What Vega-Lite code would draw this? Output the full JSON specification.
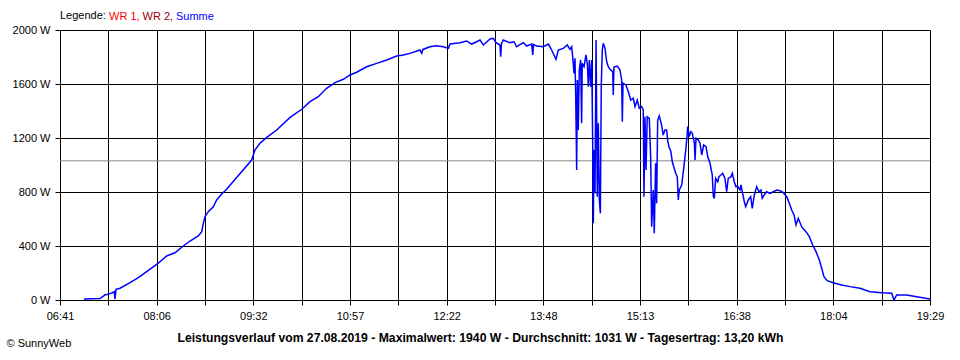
{
  "$schema": "https://vega.github.io/schema/vega-lite/v6.json",
  "width": 870,
  "height": 270,
  "autosize": {"type": "none"},
  "padding": {"left": 60, "top": 30, "right": 30, "bottom": 60},
  "background": "#ffffff",
  "config": {
    "view": {"stroke": null},
    "font": "Liberation Sans",
    "axis": {
      "labelFont": "Liberation Sans",
      "labelFontSize": 11,
      "labelColor": "#000000",
      "tickColor": "#000000",
      "tickSize": 5,
      "tickWidth": 1,
      "domainColor": "#000000",
      "domainWidth": 1,
      "gridColor": "#000000",
      "gridWidth": 1,
      "gridOpacity": 1
    }
  },
  "datasets": {
    "power": [
      {"t": 422.2, "w": 5}, {"t": 426.6, "w": 10}, {"t": 436.3, "w": 11}, {"t": 437.2, "w": 15},
      {"t": 440.7, "w": 37}, {"t": 445.1, "w": 47}, {"t": 447.2, "w": 54}, {"t": 448.9, "w": 62},
      {"t": 449.6, "w": 7}, {"t": 450.4, "w": 79}, {"t": 454.0, "w": 87}, {"t": 462.8, "w": 128},
      {"t": 470.1, "w": 165}, {"t": 477.5, "w": 210}, {"t": 486.9, "w": 267}, {"t": 495.2, "w": 326},
      {"t": 502.5, "w": 350}, {"t": 509.8, "w": 400}, {"t": 515.8, "w": 437}, {"t": 523.1, "w": 474},
      {"t": 526.1, "w": 506}, {"t": 527.5, "w": 568}, {"t": 529.0, "w": 617}, {"t": 531.9, "w": 654},
      {"t": 536.3, "w": 691}, {"t": 539.3, "w": 741}, {"t": 543.7, "w": 785}, {"t": 547.5, "w": 815},
      {"t": 558.1, "w": 918}, {"t": 570.2, "w": 1037}, {"t": 573.1, "w": 1111}, {"t": 577.5, "w": 1161},
      {"t": 583.5, "w": 1205}, {"t": 592.3, "w": 1259}, {"t": 604.1, "w": 1353}, {"t": 614.4, "w": 1413},
      {"t": 621.7, "w": 1469}, {"t": 629.0, "w": 1506}, {"t": 636.4, "w": 1568}, {"t": 643.8, "w": 1610},
      {"t": 651.1, "w": 1635}, {"t": 657.0, "w": 1667}, {"t": 662.9, "w": 1687}, {"t": 671.7, "w": 1728},
      {"t": 680.6, "w": 1753}, {"t": 689.4, "w": 1778}, {"t": 698.2, "w": 1807}, {"t": 704.1, "w": 1815},
      {"t": 710.0, "w": 1827}, {"t": 718.8, "w": 1852}, {"t": 720.3, "w": 1827}, {"t": 721.4, "w": 1856},
      {"t": 727.6, "w": 1876}, {"t": 733.5, "w": 1884}, {"t": 739.4, "w": 1876}, {"t": 743.8, "w": 1864},
      {"t": 745.3, "w": 1896}, {"t": 754.1, "w": 1906}, {"t": 760.0, "w": 1919}, {"t": 764.4, "w": 1896},
      {"t": 768.8, "w": 1913}, {"t": 771.8, "w": 1926}, {"t": 774.7, "w": 1889}, {"t": 780.6, "w": 1933},
      {"t": 783.5, "w": 1939}, {"t": 785.9, "w": 1906}, {"t": 789.4, "w": 1889}, {"t": 790.0, "w": 1802},
      {"t": 790.7, "w": 1896}, {"t": 792.3, "w": 1926}, {"t": 798.2, "w": 1906}, {"t": 801.8, "w": 1913},
      {"t": 804.1, "w": 1876}, {"t": 810.0, "w": 1906}, {"t": 813.0, "w": 1881}, {"t": 817.4, "w": 1896},
      {"t": 818.3, "w": 1815}, {"t": 819.0, "w": 1893}, {"t": 821.8, "w": 1881}, {"t": 827.6, "w": 1876},
      {"t": 832.1, "w": 1896}, {"t": 835.0, "w": 1852}, {"t": 838.8, "w": 1783}, {"t": 840.9, "w": 1852},
      {"t": 845.3, "w": 1864}, {"t": 848.8, "w": 1889}, {"t": 851.2, "w": 1857}, {"t": 852.7, "w": 1876},
      {"t": 854.1, "w": 1753}, {"t": 854.7, "w": 1679}, {"t": 855.6, "w": 1790}, {"t": 856.2, "w": 1531},
      {"t": 857.1, "w": 963}, {"t": 857.7, "w": 1630}, {"t": 858.5, "w": 1259}, {"t": 859.4, "w": 1704},
      {"t": 860.6, "w": 1778}, {"t": 861.5, "w": 1309}, {"t": 862.0, "w": 1753}, {"t": 863.6, "w": 1728},
      {"t": 865.3, "w": 1815}, {"t": 866.5, "w": 1753}, {"t": 867.4, "w": 1580}, {"t": 868.3, "w": 1778},
      {"t": 869.5, "w": 1580}, {"t": 870.4, "w": 1778}, {"t": 871.3, "w": 1111}, {"t": 871.8, "w": 568},
      {"t": 872.4, "w": 1111}, {"t": 873.3, "w": 790}, {"t": 874.2, "w": 1926}, {"t": 875.3, "w": 765},
      {"t": 876.2, "w": 1309}, {"t": 877.1, "w": 741}, {"t": 878.0, "w": 642}, {"t": 878.8, "w": 1580},
      {"t": 879.7, "w": 1852}, {"t": 880.6, "w": 1901}, {"t": 882.1, "w": 1864}, {"t": 883.6, "w": 1765},
      {"t": 885.0, "w": 1728}, {"t": 886.5, "w": 1709}, {"t": 888.9, "w": 1691}, {"t": 889.4, "w": 1519},
      {"t": 890.0, "w": 1726}, {"t": 890.9, "w": 1728}, {"t": 893.0, "w": 1733}, {"t": 895.3, "w": 1704},
      {"t": 896.8, "w": 1630}, {"t": 897.4, "w": 1321}, {"t": 898.0, "w": 1605}, {"t": 900.6, "w": 1593},
      {"t": 902.7, "w": 1543}, {"t": 904.8, "w": 1481}, {"t": 907.1, "w": 1494}, {"t": 908.6, "w": 1432},
      {"t": 910.6, "w": 1481}, {"t": 912.4, "w": 1420}, {"t": 914.5, "w": 1432}, {"t": 915.9, "w": 1407},
      {"t": 916.5, "w": 765}, {"t": 917.4, "w": 1358}, {"t": 918.3, "w": 963}, {"t": 919.4, "w": 1358},
      {"t": 921.2, "w": 1346}, {"t": 922.4, "w": 1061}, {"t": 923.3, "w": 543}, {"t": 924.7, "w": 815},
      {"t": 925.6, "w": 494}, {"t": 926.8, "w": 1013}, {"t": 927.7, "w": 716}, {"t": 928.6, "w": 1333},
      {"t": 930.0, "w": 1363}, {"t": 932.1, "w": 1296}, {"t": 933.5, "w": 1222}, {"t": 935.0, "w": 1259},
      {"t": 936.5, "w": 1259}, {"t": 937.4, "w": 1185}, {"t": 938.5, "w": 1136}, {"t": 940.3, "w": 1099},
      {"t": 941.5, "w": 1024}, {"t": 943.2, "w": 976}, {"t": 944.5, "w": 939}, {"t": 945.9, "w": 913},
      {"t": 946.8, "w": 741}, {"t": 947.7, "w": 815}, {"t": 949.8, "w": 852}, {"t": 952.1, "w": 1013},
      {"t": 953.4, "w": 1111}, {"t": 954.5, "w": 1210}, {"t": 955.1, "w": 1284}, {"t": 956.5, "w": 1210},
      {"t": 957.8, "w": 1247}, {"t": 959.2, "w": 1235}, {"t": 961.0, "w": 1161}, {"t": 961.6, "w": 1037},
      {"t": 962.4, "w": 1198}, {"t": 964.5, "w": 1185}, {"t": 966.0, "w": 1161}, {"t": 967.5, "w": 1074},
      {"t": 969.2, "w": 1148}, {"t": 971.3, "w": 1136}, {"t": 972.8, "w": 1061}, {"t": 974.8, "w": 1013},
      {"t": 976.8, "w": 926}, {"t": 977.7, "w": 770}, {"t": 978.6, "w": 753}, {"t": 979.8, "w": 901},
      {"t": 981.6, "w": 876}, {"t": 982.7, "w": 913}, {"t": 984.5, "w": 926}, {"t": 986.0, "w": 938},
      {"t": 988.0, "w": 901}, {"t": 989.5, "w": 802}, {"t": 990.9, "w": 901}, {"t": 993.3, "w": 913},
      {"t": 994.5, "w": 939}, {"t": 996.2, "w": 876}, {"t": 997.7, "w": 839}, {"t": 999.2, "w": 844},
      {"t": 1001.3, "w": 815}, {"t": 1002.2, "w": 852}, {"t": 1003.3, "w": 802}, {"t": 1005.1, "w": 728},
      {"t": 1006.3, "w": 691}, {"t": 1008.6, "w": 741}, {"t": 1010.7, "w": 765}, {"t": 1012.1, "w": 679},
      {"t": 1013.9, "w": 778}, {"t": 1016.0, "w": 839}, {"t": 1018.0, "w": 802}, {"t": 1019.8, "w": 815},
      {"t": 1020.9, "w": 753}, {"t": 1022.7, "w": 778}, {"t": 1024.8, "w": 802}, {"t": 1027.8, "w": 790},
      {"t": 1030.7, "w": 802}, {"t": 1033.7, "w": 815}, {"t": 1036.6, "w": 810}, {"t": 1039.5, "w": 795},
      {"t": 1042.5, "w": 765}, {"t": 1044.8, "w": 716}, {"t": 1046.9, "w": 667}, {"t": 1049.0, "w": 630},
      {"t": 1050.7, "w": 556}, {"t": 1052.7, "w": 605}, {"t": 1055.7, "w": 543}, {"t": 1059.5, "w": 506},
      {"t": 1062.5, "w": 469}, {"t": 1065.4, "w": 407}, {"t": 1068.4, "w": 358}, {"t": 1071.3, "w": 296},
      {"t": 1073.4, "w": 235}, {"t": 1075.4, "w": 173}, {"t": 1078.3, "w": 143}, {"t": 1083.6, "w": 128},
      {"t": 1091.0, "w": 111}, {"t": 1098.4, "w": 99}, {"t": 1107.2, "w": 87}, {"t": 1116.0, "w": 61},
      {"t": 1126.4, "w": 54}, {"t": 1135.2, "w": 50}, {"t": 1137.2, "w": 0}, {"t": 1139.6, "w": 37},
      {"t": 1148.4, "w": 37}, {"t": 1157.3, "w": 24}, {"t": 1169.0, "w": 7}
    ],
    "avg": [{"w": 1031}]
  },
  "layer": [
    {
      "data": {"name": "avg"},
      "mark": {"type": "rule", "color": "#8a8a8a", "strokeWidth": 1},
      "encoding": {
        "y": {"field": "w", "type": "quantitative", "scale": {"domain": [0, 2000], "nice": false}}
      }
    },
    {
      "data": {"name": "power"},
      "mark": {"type": "line", "strokeWidth": 1.5, "interpolate": "linear"},
      "encoding": {
        "x": {
          "field": "t",
          "type": "quantitative",
          "scale": {"domain": [401, 1169], "nice": false, "zero": false},
          "axis": {
            "values": [401, 443.6667, 486.3333, 529, 571.6667, 614.3333, 657, 699.6667, 742.3333, 785, 827.6667, 870.3333, 913, 955.6667, 998.3333, 1041, 1083.6667, 1126.3333, 1169],
            "labelExpr": "round((datum.value-401)*18/768) % 2 == 1 ? '' : (floor(round(datum.value)/60) < 10 ? '0' : '') + floor(round(datum.value)/60) + ':' + (round(datum.value) % 60 < 10 ? '0' : '') + (round(datum.value) % 60)",
            "labelPadding": 5,
            "labelFlush": false,
            "labelOverlap": false,
            "grid": true,
            "title": "Leistungsverlauf vom 27.08.2019 - Maximalwert: 1940 W - Durchschnitt: 1031 W - Tagesertrag: 13,20 kWh",
            "titleFont": "Liberation Sans",
            "titleFontSize": 12.2,
            "titleFontWeight": "bold",
            "titleColor": "#000000",
            "titleX": 420,
            "titleY": 41,
            "titleAlign": "center",
            "titleBaseline": "alphabetic"
          }
        },
        "y": {
          "field": "w",
          "type": "quantitative",
          "scale": {"domain": [0, 2000], "nice": false},
          "axis": {
            "values": [0, 400, 800, 1200, 1600, 2000],
            "labelExpr": "datum.value + ' W'",
            "labelPadding": 5,
            "grid": true,
            "title": "© SunnyWeb",
            "titleFont": "Liberation Sans",
            "titleFontSize": 11,
            "titleFontWeight": "normal",
            "titleColor": "#000000",
            "titleAngle": 0,
            "titleAlign": "left",
            "titleBaseline": "alphabetic",
            "titleX": -54,
            "titleY": 316
          }
        },
        "color": {
          "datum": "Summe",
          "type": "nominal",
          "scale": {"domain": ["WR 1", "WR 2", "Summe"], "range": ["#ff0000", "#990000", "#0000ff"]},
          "legend": {
            "title": "Legende:",
            "orient": "none",
            "legendX": 0,
            "legendY": -19,
            "direction": "horizontal",
            "titleOrient": "left",
            "titleFont": "Liberation Sans",
            "titleFontSize": 11,
            "titleFontWeight": "normal",
            "titleColor": "#000000",
            "titlePadding": 3,
            "labelFont": "Liberation Sans",
            "labelFontSize": 11,
            "labelOffset": -11,
            "columnPadding": 2.5,
            "symbolSize": 0.01,
            "symbolOpacity": 0,
            "symbolStrokeWidth": 0,
            "padding": 0,
            "labelExpr": "datum.value === 'Summe' ? datum.value : datum.value + ','",
            "encode": {
              "labels": {
                "update": {
                  "fill": {"signal": "datum.value === 'Summe' ? '#0000ff' : (datum.value === 'WR 2' ? '#990000' : '#ff0000')"}
                }
              }
            }
          }
        }
      }
    }
  ]
}
